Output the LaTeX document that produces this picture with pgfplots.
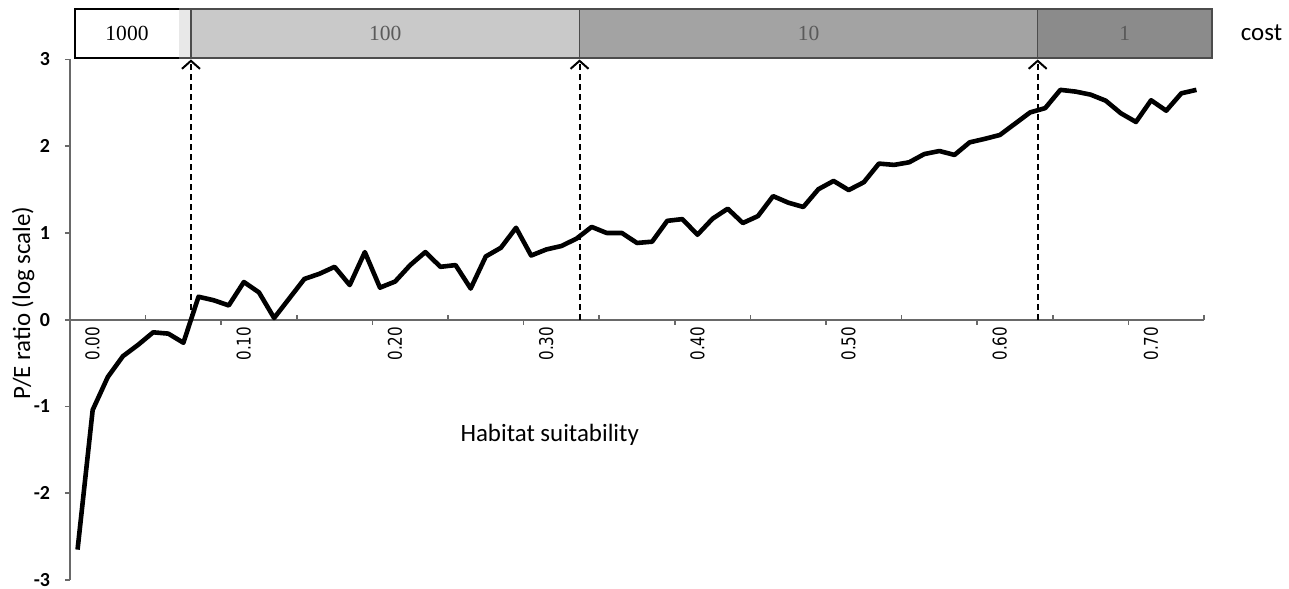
\documentclass[border=0pt]{standalone}
\usepackage{fontspec}
\setmainfont{Carlito}
\newfontfamily\serifbar{Liberation Serif}
\newfontfamily\ticksans[FakeStretch=0.8]{DejaVu Sans}
\usepackage{pgfplots}
\usepackage{pgfplotstable}
\pgfplotsset{compat=1.18}
\usetikzlibrary{arrows.meta}

\definecolor{axgray}{RGB}{105,105,105}
\definecolor{seg100}{RGB}{201,201,201}
\definecolor{seg10}{RGB}{163,163,163}
\definecolor{seg1}{RGB}{139,139,139}
\definecolor{segfade}{RGB}{232,232,232}
\definecolor{bartxt}{RGB}{90,90,90}

\pgfplotstableread{
x y
0 -2.65
1 -1.04
2 -0.66
3 -0.42
4 -0.29
5 -0.145
6 -0.16
7 -0.265
8 0.265
9 0.225
10 0.165
11 0.435
12 0.315
13 0.02
14 0.245
15 0.47
16 0.53
17 0.61
18 0.40
19 0.78
20 0.37
21 0.44
22 0.63
23 0.78
24 0.61
25 0.63
26 0.36
27 0.73
28 0.83
29 1.06
30 0.74
31 0.81
32 0.85
33 0.935
34 1.07
35 1.00
36 1.00
37 0.885
38 0.90
39 1.14
40 1.16
41 0.98
42 1.165
43 1.28
44 1.115
45 1.195
46 1.425
47 1.35
48 1.30
49 1.505
50 1.60
51 1.495
52 1.585
53 1.80
54 1.785
55 1.815
56 1.91
57 1.945
58 1.90
59 2.045
60 2.085
61 2.13
62 2.26
63 2.39
64 2.44
65 2.65
66 2.63
67 2.595
68 2.525
69 2.38
70 2.28
71 2.53
72 2.41
73 2.61
74 2.65
}\datatable

\tikzset{costarrow/.style={black, line width=1bp, dash pattern=on 3bp off 2bp, -{Straight Barb[length=4bp,width=9bp,line width=1bp]}}}

\begin{document}
\begin{tikzpicture}
\useasboundingbox (-35bp,-4.5bp) rectangle (609.5bp,290bp);
\begin{axis}[
  at={(0,0)}, anchor=south west,
  x=7.56bp, y=43.375bp,
  xmin=-0.5, xmax=74.5, ymin=-3, ymax=3,
  axis x line*=middle, axis y line*=left,
  axis line style={axgray, line width=1bp},
  clip=false,
  xtick={9.5,19.5,...,69.5},
  xticklabels={},
  minor xtick={4.5,14.5,...,74.5},
  minor tick length=2.5bp,
  minor tick style={yshift=2.5bp},
  extra x ticks={0,10,...,70},
  extra x tick labels={0.00,0.10,0.20,0.30,0.40,0.50,0.60,0.70},
  extra x tick style={major tick length=0pt},
  tick align=outside,
  ytick={-3,-2,...,3},
  yticklabels={-3,-2,-1,0,1,2,3},
  major tick length=2.5bp,
  tick style={axgray, line width=0.8bp},
  xticklabel style={rotate=90, anchor=east, font=\ticksans\fontsize{9.5}{11}\selectfont, yshift=-7.5bp},
  yticklabel style={font=\bfseries\fontsize{10}{12}\selectfont, xshift=-4bp},
  xlabel={Habitat suitability},
  ylabel={P/E ratio (log scale)},
  every axis x label/.style={at={(axis description cs:0.423,0.2786)}, anchor=center, font=\fontsize{12.5}{15}\selectfont},
  every axis y label/.style={at={(axis description cs:-0.0414,0.532)}, rotate=90, anchor=center, font=\fontsize{12.5}{15}\selectfont},
]
\addplot[black, line width=2.3bp, line join=round, mark=none] table[x=x,y=y] {\datatable};

% cost bar
\fill[white] (axis cs:-0.17,3.02) rectangle (axis cs:6.7,3.585);
\fill[segfade] (axis cs:6.7,3.02) rectangle (axis cs:7.5,3.585);
\fill[seg100] (axis cs:7.5,3.02) rectangle (axis cs:33.2,3.585);
\fill[seg10] (axis cs:33.2,3.02) rectangle (axis cs:63.5,3.585);
\fill[seg1] (axis cs:63.5,3.02) rectangle (axis cs:75.0,3.585);
\draw[black!70, line width=1bp] (axis cs:-0.17,3.02) rectangle (axis cs:75.0,3.585);
\draw[black, line width=1bp] (axis cs:6.7,3.02) -- (axis cs:-0.17,3.02) -- (axis cs:-0.17,3.585) -- (axis cs:6.7,3.585);
\draw[black!70, line width=0.8bp] (axis cs:7.5,3.02) -- (axis cs:7.5,3.585);
\draw[black!70, line width=0.8bp] (axis cs:33.2,3.02) -- (axis cs:33.2,3.585);
\draw[black!70, line width=0.8bp] (axis cs:63.5,3.02) -- (axis cs:63.5,3.585);
\node[font=\serifbar\fontsize{10.8}{12}\selectfont, text=black] at (axis cs:3.27,3.30) {1000};
\node[font=\serifbar\fontsize{10.8}{12}\selectfont, text=bartxt] at (axis cs:20.35,3.30) {100};
\node[font=\serifbar\fontsize{10.8}{12}\selectfont, text=bartxt] at (axis cs:48.35,3.30) {10};
\node[font=\serifbar\fontsize{10.8}{12}\selectfont, text=bartxt] at (axis cs:69.25,3.30) {1};
\node[font=\fontsize{12.5}{15}\selectfont] at (axis cs:78.3,3.31) {cost};

% dashed arrows
\draw[costarrow] (axis cs:7.5,0) -- (axis cs:7.5,3.00);
\draw[costarrow] (axis cs:33.2,0) -- (axis cs:33.2,3.00);
\draw[costarrow] (axis cs:63.5,0) -- (axis cs:63.5,3.00);
\end{axis}
\end{tikzpicture}
\end{document}
